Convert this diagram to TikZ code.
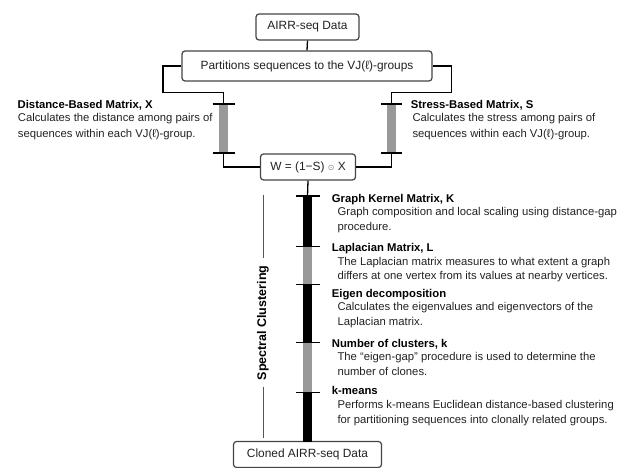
\documentclass[tikz,border=0pt]{standalone}
\usepackage{fontspec}
\setmainfont{Liberation Sans}
\newfontfamily\symfont{DejaVu Sans}
\definecolor{boxline}{HTML}{444444}
\definecolor{barg}{HTML}{999999}
\definecolor{txtc}{HTML}{222222}
\definecolor{sgray}{HTML}{555555}
\begin{document}
\begin{tikzpicture}[x=1pt,y=-1pt,
  box/.style={draw=boxline, line width=1.2pt, rounded corners=3pt, fill=white, inner sep=0pt, text=txtc, font=\fontsize{11.9}{13}\selectfont},
  ttl/.style={anchor=base west, inner sep=0pt, font=\bfseries\fontsize{11.3}{13}\selectfont},
  dsc/.style={anchor=base west, inner sep=0pt, text=txtc, font=\fontsize{11.3}{13}\selectfont},
  conn/.style={line width=1.3pt, black},
  tickln/.style={line width=1.5pt, black},
  sline/.style={line width=0.9pt, sgray}]
\useasboundingbox (0,0) rectangle (625,468);

% boxes
\node[box, minimum width=103pt, minimum height=26pt] (airr) at (307.5,27) {AIRR-seq Data};
\node[box, minimum width=250pt, minimum height=30pt] (part) at (307,66) {Partitions sequences to the VJ(ℓ)-groups};
\node[box, minimum width=95pt, minimum height=26pt] (wbox) at (308,167) {W = (1−S) {\symfont\color{gray}\fontsize{8}{8}\selectfont ⊙} X};
\node[box, minimum width=148pt, minimum height=26pt] (clon) at (307.5,454.5) {Cloned AIRR-seq Data};

% coordinates
\coordinate (lc) at (163,92.5);
\coordinate (lt) at (223.3,104);
\coordinate (lb) at (223.3,153);
\coordinate (rc) at (451.7,92.5);
\coordinate (rt) at (391.5,104);
\coordinate (rb) at (391.5,153);
\coordinate (mt) at (307.5,196);

% connectors
\draw[conn] (airr.south) -- (part.north);
\draw[conn] (part.west) -| (lc) -| (lt);
\draw[conn] (lb) |- (wbox.west);
\draw[conn] (part.east) -| (rc) -| (rt);
\draw[conn] (rb) |- (wbox.east);
\draw[conn] (wbox.south) -- (mt);

% side bars
\fill[barg] (218.8,104) rectangle (227.8,153);
\draw[tickln] (212.5,104) -- (235,104);
\draw[tickln] (212.5,153) -- (235,153);
\fill[barg] (387,104) rectangle (396,153);
\draw[tickln] (381,104) -- (401.7,104);
\draw[tickln] (381,153) -- (401.7,153);

% main bar
\fill[black] (303,196) rectangle (312,246.7);
\fill[barg] (303,246.7) rectangle (312,284.3);
\fill[black] (303,284.3) rectangle (312,342.3);
\fill[barg] (303,342.3) rectangle (312,392.3);
\fill[black] (303,392.3) rectangle (312,441.5);
\foreach \yy in {196,246.7,284.3,342.3,392.3}
  \draw[tickln] (295.5,\yy) -- (320,\yy);

% spectral clustering label
\node[rotate=90, inner sep=0pt, font=\bfseries\fontsize{12.5}{14}\selectfont] (spec) at (263,323) {Spectral Clustering};
\draw[sline] (263,195) -- (263,258);
\draw[sline] (263,387) -- (263,438);

% left text
\node[ttl] (tx) at (17.5,108.5) {Distance-Based Matrix, X};
\node[dsc] (tx1) at (17.7,122) {Calculates the distance among pairs of};
\node[dsc] (tx2) at (17.7,138) {sequences within each VJ(ℓ)-group.};
% right text
\node[ttl] (ts) at (410.7,108.5) {Stress-Based Matrix, S};
\node[dsc] (ts1) at (412.3,122) {Calculates the stress among pairs of};
\node[dsc] (ts2) at (412.3,138) {sequences within each VJ(ℓ)-group.};

% column text
\node[ttl] (k0) at (331.7,202.3) {Graph Kernel Matrix, K};
\node[dsc] (k1) at (337.3,216) {Graph composition and local scaling using distance-gap};
\node[dsc] (k2) at (337.3,230.5) {procedure.};

\node[ttl] (l0) at (331.7,251.7) {Laplacian Matrix, L};
\node[dsc] (l1) at (337.3,265.4) {The Laplacian matrix measures to what extent a graph};
\node[dsc] (l2) at (337.3,279.9) {differs at one vertex from its values at nearby vertices.};

\node[ttl] (e0) at (331.7,297.3) {Eigen decomposition};
\node[dsc] (e1) at (337.3,311) {Calculates the eigenvalues and eigenvectors of the};
\node[dsc] (e2) at (337.3,325.5) {Laplacian matrix.};

\node[ttl] (n0) at (331.7,347.3) {Number of clusters, k};
\node[dsc] (n1) at (337.3,361) {The “eigen-gap” procedure is used to determine the};
\node[dsc] (n2) at (337.3,375.5) {number of clones.};

\node[ttl] (m0) at (331.7,395) {k-means};
\node[dsc] (m1) at (337.3,408.7) {Performs k-means Euclidean distance-based clustering};
\node[dsc] (m2) at (337.3,423.2) {for partitioning sequences into clonally related groups.};
\end{tikzpicture}
\end{document}
